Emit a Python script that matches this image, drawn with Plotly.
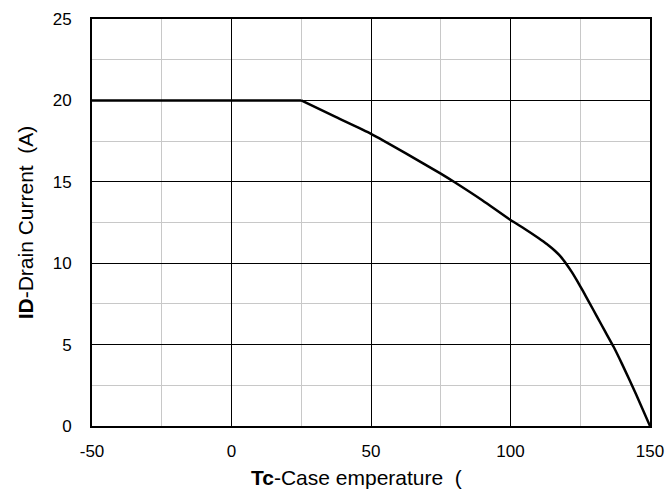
import plotly.graph_objects as go

temp_c = [-50, 25, 37.5, 50, 62.5, 75, 80, 90, 100, 105, 110, 113, 116, 118, 120, 122, 124, 126, 128, 131, 134, 137, 140, 145, 150]
drain_a = [20, 20, 18.97, 17.95, 16.75, 15.5, 14.97, 13.85, 12.65, 12.12, 11.55, 11.18, 10.75, 10.4, 9.95, 9.45, 8.88, 8.28, 7.66, 6.72, 5.78, 4.85, 3.8, 1.95, 0]

x_ticks = [-50, 0, 50, 100, 150]
x_tick_text = ["-50", "0", "50", "100", "150"]
y_ticks = [0, 5, 10, 15, 20, 25]

fig = go.Figure()
# flat plateau (straight) then the derating curve (smoothed)
fig.add_trace(go.Scatter(x=temp_c[:2], y=drain_a[:2], mode="lines",
                         line=dict(color="black", width=2.5),
                         showlegend=False, hoverinfo="skip"))
fig.add_trace(go.Scatter(x=temp_c[1:], y=drain_a[1:], mode="lines",
                         line=dict(color="black", width=2.5, shape="spline", smoothing=0.5),
                         showlegend=False, hoverinfo="skip"))

font = dict(family="Liberation Sans, Arial, sans-serif", size=17, color="black")
fig.update_layout(
    width=667, height=491,
    margin=dict(l=92, r=17, t=19, b=65, autoexpand=False),
    paper_bgcolor="white", plot_bgcolor="white",
    font=font,
    xaxis=dict(range=[-50, 150], tickvals=x_ticks, ticktext=x_tick_text, automargin=False,
               showgrid=True, gridcolor="black", gridwidth=1,
               minor=dict(dtick=25, tick0=-50, showgrid=True, gridcolor="#c8c8c8", gridwidth=1.2),
               showline=True, linecolor="black", linewidth=2, mirror=True, zeroline=False,
               ticks="", ticklabelstandoff=9),
    yaxis=dict(range=[0, 25], tickvals=y_ticks, automargin=False,
               showgrid=True, gridcolor="black", gridwidth=1,
               minor=dict(dtick=2.5, tick0=0, showgrid=True, gridcolor="#c8c8c8", gridwidth=1.2),
               showline=True, linecolor="black", linewidth=2, mirror=True, zeroline=False,
               ticks="", ticklabelstandoff=15,
               title=dict(text="<b>ID</b>-Drain Current  (A)", font=dict(size=21), standoff=13)),
    annotations=[dict(text="<b>Tc</b>-Case emperature  (", xref="paper", yref="paper",
                      x=(249 - 92) / 558, y=0, xanchor="left", yanchor="top", yshift=-38,
                      showarrow=False, font=dict(size=21))],
)
fig.write_html("out.html")
